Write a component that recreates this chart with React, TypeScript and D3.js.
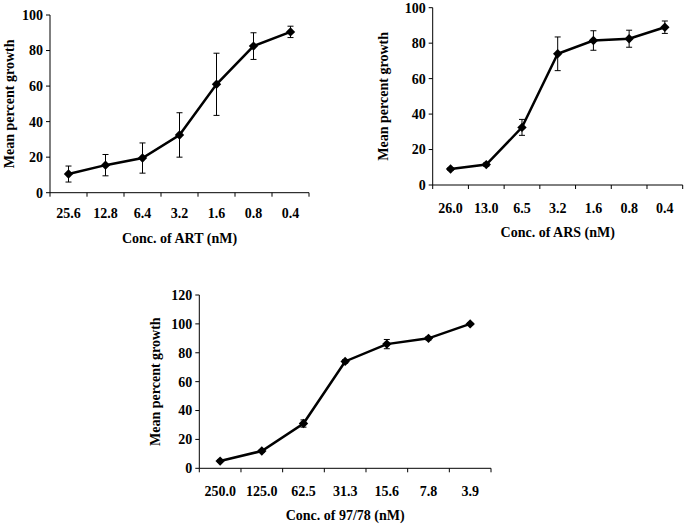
import React from 'react';
import * as d3 from 'd3';

const artLabels = ['25.6', '12.8', '6.4', '3.2', '1.6', '0.8', '0.4'];
const artMean = [10.5, 15.5, 19.5, 32.5, 61, 82.5, 90.5];
const artErr = [4.5, 6, 8.5, 12.5, 17.5, 7.5, 3.2];

const arsLabels = ['26.0', '13.0', '6.5', '3.2', '1.6', '0.8', '0.4'];
const arsMean = [9, 11.5, 32.5, 74, 81.5, 82.5, 89];
const arsErr = [0.8, 1, 4.5, 9.5, 5.5, 4.8, 3.5];

const ref9778Labels = ['250.0', '125.0', '62.5', '31.3', '15.6', '7.8', '3.9'];
const ref9778Mean = [5, 12, 31, 74, 86, 90, 100];
const ref9778Err = [0.8, 1, 2.5, 1.2, 3.2, 1.2, 0.8];

const font = "'Liberation Serif', 'DejaVu Serif', serif";

interface PanelProps {
  labels: string[];
  mean: number[];
  err: number[];
  xTitle: string;
  yMax: number;
  yTicks: number[];
  left: number;
  right: number;
  top: number;
  bottom: number;
  yTitleX: number;
  tickLabelY: number;
  titleY: number;
}

const Panel = ({ labels, mean, err, xTitle, yMax, yTicks, left, right, top, bottom, yTitleX, tickLabelY, titleY }: PanelProps) => {
  const x = d3.scaleBand<string>().domain(labels).range([left, right]);
  const y = d3.scaleLinear().domain([0, yMax]).range([bottom, top]);
  const cx = (i: number) => (x(labels[i]) ?? 0) + x.bandwidth() / 2;

  const line = d3.line<number>()
    .x((_, i) => cx(i))
    .y(d => y(d));

  // square turned 45 degrees, as in the Excel diamond marker
  const diamond = d3.symbol().type(d3.symbolSquare).size(44)();
  const edges = labels.map(l => x(l) ?? 0).concat([right]);

  return (
    <g style={{ fontFamily: font, fontWeight: 'bold' }} fill="#000">
      {/* y axis */}
      <line x1={left} x2={left} y1={top} y2={bottom} stroke="#000" strokeWidth={1} />
      {yTicks.map(t => (
        <g key={t}>
          <line x1={left - 4} x2={left} y1={y(t)} y2={y(t)} stroke="#000" />
          <text x={left - 7} y={y(t)} dy="0.35em" textAnchor="end" fontSize={14}>{t}</text>
        </g>
      ))}
      {/* x axis */}
      <line x1={left} x2={right} y1={bottom} y2={bottom} stroke="#000" strokeWidth={1} />
      {edges.map((e, i) => (
        <line key={i} x1={e} x2={e} y1={bottom} y2={bottom + 4} stroke="#000" />
      ))}
      {labels.map(l => (
        <text key={l} x={(x(l) ?? 0) + x.bandwidth() / 2} y={tickLabelY} textAnchor="middle" fontSize={14}>{l}</text>
      ))}
      <text x={(left + right) / 2} y={titleY} textAnchor="middle" fontSize={14}>{xTitle}</text>
      <text
        transform={`translate(${yTitleX},${(top + bottom) / 2}) rotate(-90)`}
        textAnchor="middle"
        dy="0.35em"
        fontSize={14}
      >Mean percent growth</text>
      {/* error bars */}
      {mean.map((m, i) => (
        <g key={i} stroke="#000" strokeWidth={1}>
          <line x1={cx(i)} x2={cx(i)} y1={y(m - err[i])} y2={y(m + err[i])} />
          <line x1={cx(i) - 3} x2={cx(i) + 3} y1={y(m - err[i])} y2={y(m - err[i])} />
          <line x1={cx(i) - 3} x2={cx(i) + 3} y1={y(m + err[i])} y2={y(m + err[i])} />
        </g>
      ))}
      <path d={line(mean) ?? ''} fill="none" stroke="#000" strokeWidth={2.5} />
      {mean.map((m, i) => (
        <path key={i} d={diamond ?? ''} transform={`translate(${cx(i)},${y(m)}) rotate(45)`} fill="#000" />
      ))}
    </g>
  );
};

export default function App() {
  return (
    <svg width={686} height={525} style={{ position: 'absolute', left: 0, top: 0, background: '#fff' }}>
      <rect width={686} height={525} fill="#fff" />
      <Panel
        labels={artLabels} mean={artMean} err={artErr} xTitle="Conc. of ART (nM)"
        yMax={100} yTicks={[0, 20, 40, 60, 80, 100]}
        left={50} right={309} top={15} bottom={192.7}
        yTitleX={9} tickLabelY={218} titleY={243}
      />
      <Panel
        labels={arsLabels} mean={arsMean} err={arsErr} xTitle="Conc. of ARS (nM)"
        yMax={100} yTicks={[0, 20, 40, 60, 80, 100]}
        left={432.7} right={682.7} top={7.7} bottom={185}
        yTitleX={383} tickLabelY={213} titleY={237}
      />
      <Panel
        labels={ref9778Labels} mean={ref9778Mean} err={ref9778Err} xTitle="Conc. of 97/78 (nM)"
        yMax={120} yTicks={[0, 20, 40, 60, 80, 100, 120]}
        left={199.3} right={491} top={295} bottom={468.3}
        yTitleX={155} tickLabelY={496} titleY={520}
      />
    </svg>
  );
}
